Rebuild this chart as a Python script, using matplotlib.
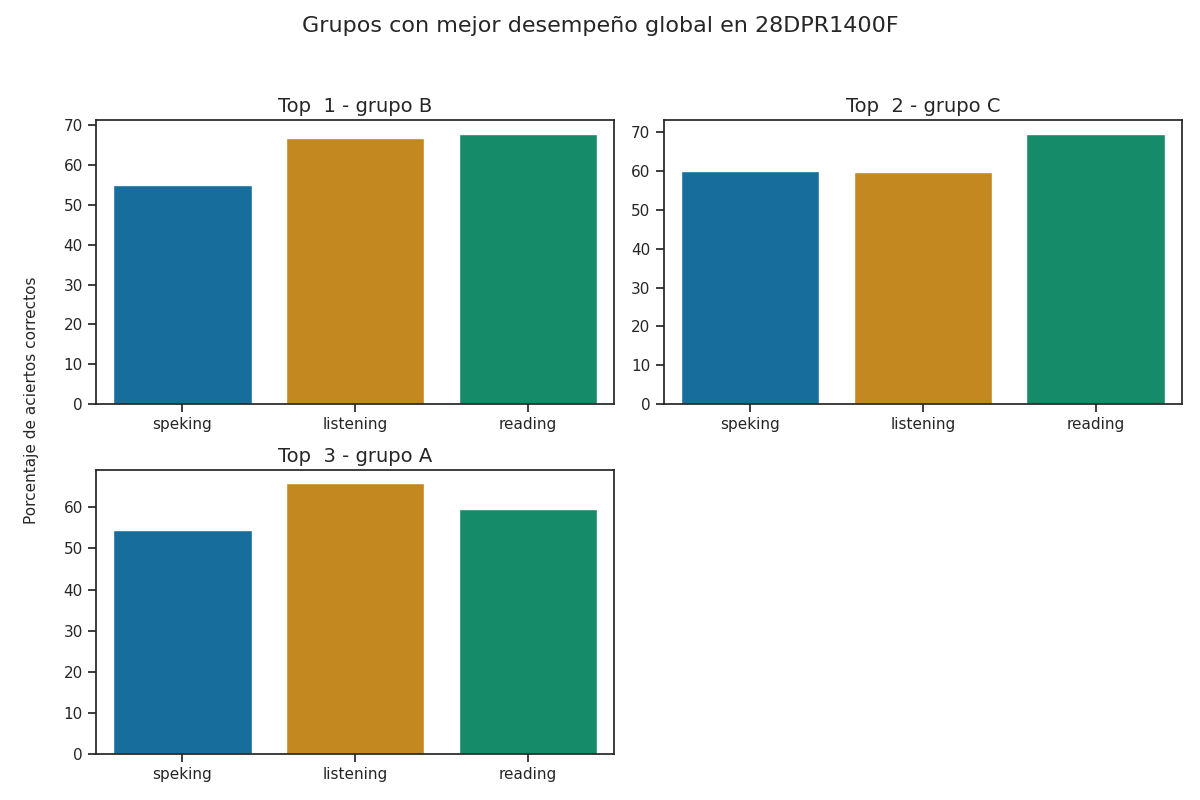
import matplotlib
matplotlib.use("Agg")
import matplotlib.pyplot as plt
import seaborn as sns
import pandas as pd

categories = ["speking", "listening", "reading"]
titles = ["Top  1 - grupo B", "Top  2 - grupo C", "Top  3 - grupo A"]
values_top1 = [55.1, 66.8, 67.9]
values_top2 = [60.0, 59.7, 69.7]
values_top3 = [54.4, 65.8, 59.7]
all_values = [values_top1, values_top2, values_top3]

sns.set_theme(style="ticks")
plt.rcParams['font.family'] = ['DejaVu Sans']

fig, axes = plt.subplots(2, 2, figsize=(12, 8), dpi=100)
fig.subplots_adjust(left=0.08, right=0.985, top=0.85, bottom=0.0575,
                    hspace=0.232, wspace=0.095)
axs = [axes[0, 0], axes[0, 1], axes[1, 0]]
axes[1, 1].remove()

for ax, title, vals in zip(axs, titles, all_values):
    df = pd.DataFrame({"cat": categories, "val": vals})
    sns.barplot(data=df, x="cat", y="val", hue="cat", palette="colorblind",
                legend=False, ax=ax)
    ax.set_title(title, fontsize=14)
    ax.set_xlabel("")
    ax.set_ylabel("")

fig.suptitle("Grupos con mejor desempeño global en 28DPR1400F", fontsize=16)
fig.supylabel("Porcentaje de aciertos correctos", fontsize=11)

fig.savefig("out.png", dpi=100)
